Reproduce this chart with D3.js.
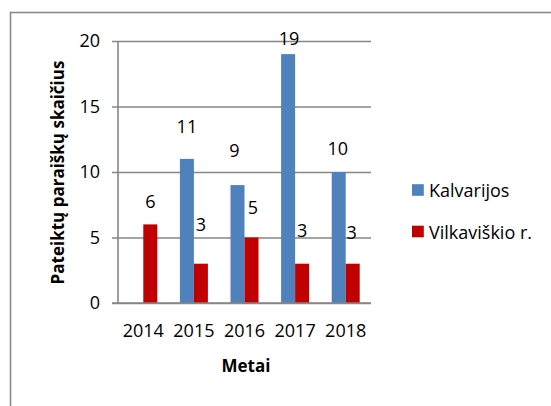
<!DOCTYPE html>
<html>
<head>
<meta charset="utf-8">
<script src="https://cdn.jsdelivr.net/npm/d3@7/dist/d3.min.js"></script>
<style>
html,body{margin:0;padding:0;background:#fff;}
svg{display:block;}
text{font-family:"Open Sans",sans-serif;fill:#000;}
</style>
</head>
<body>
<svg id="chart" width="551" height="406"></svg>
<script>
const years = ["2014", "2015", "2016", "2017", "2018"];
const seriesNames = ["Kalvarijos", "Vilkaviškio r."];
const kalvarijos = [null, 11, 9, 19, 10];
const vilkaviskio = [6, 3, 5, 3, 3];
const yTicks = [0, 5, 10, 15, 20];
const colors = ["#4F81BD", "#C00000"];

// label placement (layout, in px): lift above bar top, horizontal nudge
const labelLift = [[0, 33, 35, 16, 24], [23, 40, 31, 34, 32]];
const labelNudge = [[0, 0, -3, 1, -1], [0, 0, 1.5, 0, -1]];

(function () {
const svg = d3.select("#chart");
const fs = 18;

// outer border
svg.append("rect").attr("x", 10.5).attr("y", 12.5).attr("width", 600).attr("height", 500)
  .attr("fill", "none").attr("stroke", "#8a8a8a").attr("stroke-width", 1.6);

const pL = 118, pR = 371, pT = 41, pB = 303;
const y = d3.scaleLinear().domain([0, 20]).range([pB, pT]);
const x0 = d3.scaleBand().domain(years).range([pL, pR]).paddingInner(0.447).paddingOuter(0.2235);
const x1 = d3.scaleBand().domain(seriesNames).range([0, x0.bandwidth()]);
const xLab = d3.scaleBand().domain(years).range([pL, pR]);

// gridlines + y tick labels via axis
const yAxis = d3.axisLeft(y).tickValues(yTicks).tickSize(0).tickPadding(18).tickFormat(d3.format("d"));
const gy = svg.append("g").attr("transform", `translate(${pL},0)`).call(yAxis);
gy.select(".domain").remove();
gy.selectAll(".tick line").attr("x1", -6).attr("x2", pR - pL)
  .attr("stroke", "#868686").attr("stroke-width", 1.6);
gy.selectAll(".tick text").attr("font-size", fs).attr("font-family", "Open Sans").attr("fill", "#000");

// bars
const series = [kalvarijos, vilkaviskio];
series.forEach((vals, si) => {
  svg.append("g").selectAll("rect").data(years.map((yr, i) => ({yr, v: vals[i]})).filter(d => d.v != null))
    .join("rect")
    .attr("x", d => x0(d.yr) + x1(seriesNames[si]))
    .attr("y", d => y(d.v))
    .attr("width", x1.bandwidth())
    .attr("height", d => y(0) - y(d.v))
    .attr("fill", colors[si]);
});

// y axis line
svg.append("line").attr("x1", pL).attr("x2", pL).attr("y1", pT).attr("y2", pB)
  .attr("stroke", "#868686").attr("stroke-width", 1.6);

// x axis
const xAxis = d3.axisBottom(xLab).tickSize(0).tickPadding(21);
const gx = svg.append("g").attr("transform", `translate(0,${pB})`).call(xAxis);
gx.select(".domain").attr("stroke", "#868686").attr("stroke-width", 1.6).attr("d", `M${pL - 6},0H${pR}`);
gx.selectAll(".tick text").attr("font-size", fs).attr("font-family", "Open Sans").attr("fill", "#000");

// data labels
series.forEach((vals, si) => {
  svg.append("g").selectAll("text").data(years.map((yr, i) => ({yr, v: vals[i], i})).filter(d => d.v != null))
    .join("text")
    .attr("x", d => x0(d.yr) + x1(seriesNames[si]) + x1.bandwidth() / 2 + labelNudge[si][d.i])
    .attr("y", d => y(d.v) - labelLift[si][d.i])
    .attr("text-anchor", "middle").attr("dominant-baseline", "central")
    .attr("font-size", fs).text(d => d.v);
});

// axis titles
svg.append("text").attr("x", 246).attr("y", 365).attr("text-anchor", "middle").attr("dominant-baseline", "central")
  .attr("font-size", 17).attr("font-weight", "bold").text("Metai");
svg.append("text").attr("transform", "translate(57,172.5) rotate(-90)").attr("text-anchor", "middle").attr("dominant-baseline", "central")
  .attr("font-size", 17).attr("font-weight", "bold").text("Pateiktų paraiškų skaičius");

// legend
const legY = [190, 231.5];
seriesNames.forEach((n, i) => {
  svg.append("rect").attr("x", 412).attr("y", legY[i] - 5.8).attr("width", 11.8).attr("height", 11.6).attr("fill", colors[i]);
  svg.append("text").attr("x", 429).attr("y", legY[i]).attr("dominant-baseline", "central").attr("font-size", fs).text(n);
});
})();
</script>
</body>
</html>
